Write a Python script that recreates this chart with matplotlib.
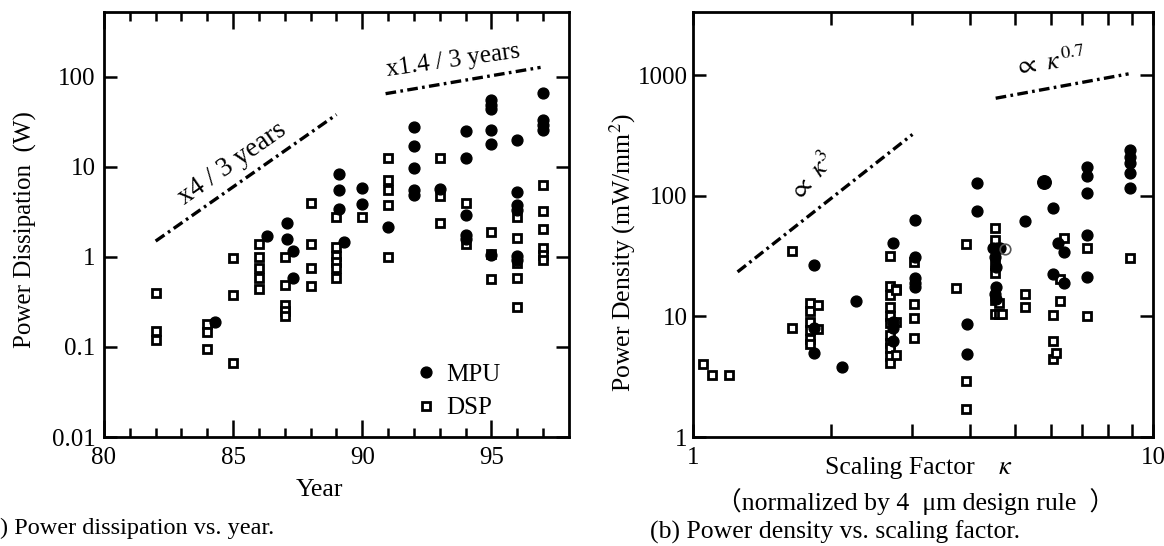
import matplotlib
matplotlib.use("Agg")
import matplotlib.pyplot as plt
import numpy as np
from matplotlib.ticker import FixedLocator, NullLocator, FixedFormatter, NullFormatter

plt.rcParams["font.family"] = ["Liberation Serif", "Noto Sans CJK JP", "DejaVu Sans"]
plt.rcParams["mathtext.fontset"] = "stix"

# ---------------- (a) power dissipation vs. year ----------------
mpu_year = [84.3, 86.3, 87.1, 87.1, 87.3, 87.3,
            89.1, 89.1, 89.1, 89.3, 90.0, 90.0, 91.0,
            92.0, 92.0, 92.0, 92.0, 92.0, 93.0,
            94.0, 94.0, 94.0, 94.0, 94.0,
            95.0, 95.0, 95.0, 95.0, 95.0, 95.0,
            96.0, 96.0, 96.0, 96.0, 96.0, 96.0,
            97.0, 97.0, 97.0, 97.0]
mpu_power = [0.19, 1.7, 2.4, 1.6, 1.15, 0.58,
             8.4, 5.5, 3.4, 1.45, 5.8, 3.9, 2.15,
             28, 17, 9.7, 5.5, 4.9, 5.7,
             25, 12.4, 2.9, 1.75, 1.6,
             55, 49, 44, 25.5, 18, 1.05,
             20, 5.2, 3.8, 3.3, 1.03, 0.93,
             66, 33, 29, 26]

dsp_year = [82, 82, 82, 84, 84, 84, 85, 85, 85,
            86, 86, 86, 86, 86, 87, 87, 87, 87, 87,
            88, 88, 88, 88, 89, 89, 89, 89, 89, 89, 90,
            91, 91, 91, 91, 91, 93, 93, 93, 94, 94,
            95, 95, 95, 96, 96, 96, 96, 96,
            97, 97, 97, 97, 97, 97]
dsp_power = [0.40, 0.15, 0.12, 0.18, 0.146, 0.094, 0.97, 0.38, 0.067,
             1.4, 1.0, 0.76, 0.58, 0.44, 1.0, 0.49, 0.29, 0.25, 0.22,
             4.0, 1.4, 0.76, 0.48, 2.8, 1.3, 1.03, 0.88, 0.76, 0.58, 2.75,
             12.5, 7.2, 5.6, 3.8, 1.0, 12.5, 4.7, 2.4, 4.0, 1.38,
             1.88, 1.08, 0.57, 2.8, 1.62, 0.86, 0.59, 0.28,
             6.3, 3.2, 2.05, 1.25, 1.05, 0.92]

year_ticks = [80, 85, 90, 95]
power_ticks = [0.01, 0.1, 1, 10, 100]
power_tick_labels = ["0.01", "0.1", "1", "10", "100"]

# growth guides: x4 per 3 years and x1.4 per 3 years
fast_years = [82.0, 89.0]
fast_start, fast_factor = 1.5, 4.0
slow_years = [90.9, 96.9]
slow_start, slow_factor = 65.0, 1.4

# ---------------- (b) power density vs. scaling factor ----------------
mpu_kappa = [1.83, 1.83, 1.83, 2.11, 2.26,
             2.72, 2.72, 2.72, 2.72,
             3.04, 3.04, 3.04, 3.04, 3.04,
             3.95, 3.95, 4.14, 4.14,
             4.50, 4.58, 4.66, 4.54, 4.56, 4.56, 4.54, 4.56,
             5.27, 5.8, 6.05, 6.23, 6.41, 6.05, 6.41,
             7.2, 7.2, 7.2, 7.2, 7.2,
             8.9, 8.9, 8.9, 8.9, 8.9]
mpu_density = [26.5, 8.0, 5.0, 3.8, 13.5,
               41, 9.0, 8.0, 6.3,
               63, 31, 21, 19, 17.7,
               8.6, 4.9, 128, 75,
               37, 37, 37, 31, 25.5, 17.7, 15.5, 14.0,
               62, 131, 80, 41, 34.5, 22.5, 19,
               175, 147, 106, 47.5, 21.2,
               241, 212, 189, 154, 116]
mpu_marker_scale = [1.0] * 27 + [1.25] + [1.0] * 15

open_kappa = [4.77]
open_density = [36]

dsp_kappa = [1.05, 1.10, 1.20, 1.644, 1.644,
             1.80, 1.80, 1.80, 1.80, 1.80, 1.80, 1.87, 1.87,
             2.68, 2.68, 2.68, 2.68, 2.68, 2.68, 2.68, 2.68, 2.68, 2.68, 2.68,
             2.76, 2.76, 2.76, 2.76,
             3.02, 3.02, 3.02, 3.02,
             3.73, 3.92, 3.92, 3.92,
             4.54, 4.54, 4.54, 4.54, 4.54, 4.54, 4.62, 4.62, 4.70,
             5.27, 5.27, 6.05, 6.05, 6.05, 6.15, 6.28, 6.28, 6.41,
             7.2, 7.2, 8.9]
dsp_density = [4.0, 3.3, 3.3, 35, 8.0,
               13, 11, 9, 7.7, 6.5, 5.9, 12.5, 7.8,
               32, 18, 15, 12, 10, 8.8, 7.0, 6.0, 5.5, 4.7, 4.1,
               17, 16.5, 9.0, 4.8,
               28.5, 12.7, 9.8, 6.6,
               17.1, 40, 2.9, 1.7,
               54, 43, 26.5, 22.8, 13.8, 10.4, 13.0, 10.4, 10.4,
               15.3, 11.9, 10.3, 6.2, 4.4, 5.0, 20.4, 13.5, 45,
               37, 10.1, 30.4]

kappa_ticks = [1, 10]
kappa_minor = [2, 3, 4, 5, 6, 7, 8, 9]
density_ticks = [1, 10, 100, 1000]

# scaling guides: density proportional to kappa^3 and kappa^0.7
cube_kappa = [1.25, 3.0]
cube_coef, cube_exp = 12.0, 3.0
weak_kappa = [4.55, 8.85]
weak_coef, weak_exp = 224.0, 0.7

# ---------------- drawing ----------------
W, H = 1164, 546
fig = plt.figure(figsize=(W / 100, H / 100), dpi=100)
ax1 = fig.add_axes([104 / W, 109 / H, 465 / W, 425 / H])
ax2 = fig.add_axes([693 / W, 109 / H, 460 / W, 425 / H])

tick_fs = 18
lw_spine = 2.0
guide_style = dict(color="black", lw=2.4, linestyle=(0, (3.2, 1.3, 0.8, 1.3)),
                   dash_capstyle="butt", solid_capstyle="butt")
circle_style = dict(marker="o", ls="none", color="black", ms=7.8)
square_style = dict(marker="s", ls="none", mfc="white", mec="black", ms=5.6, mew=2.0)

for ax in (ax1, ax2):
    for sp in ax.spines.values():
        sp.set_linewidth(lw_spine)

# panel (a)
ax1.set_yscale("log")
ax1.set_xlim(80, 98)
ax1.set_ylim(0.01, 525)
ax1.plot(dsp_year, dsp_power, label="DSP", **square_style)
ax1.plot(mpu_year, mpu_power, label="MPU", **circle_style)

fy = np.linspace(*fast_years, 50)
ax1.plot(fy, fast_start * fast_factor ** ((fy - fast_years[0]) / 3), **guide_style)
sy = np.linspace(*slow_years, 50)
ax1.plot(sy, slow_start * slow_factor ** ((sy - slow_years[0]) / 3), **guide_style)

ax1.xaxis.set_major_locator(FixedLocator(year_ticks))
ax1.xaxis.set_major_formatter(FixedFormatter([str(v) for v in year_ticks]))
ax1.xaxis.set_minor_locator(FixedLocator([y for y in range(81, 98) if y not in year_ticks]))
ax1.yaxis.set_major_locator(FixedLocator(power_ticks))
ax1.yaxis.set_major_formatter(FixedFormatter(power_tick_labels))
ax1.yaxis.set_minor_locator(NullLocator())
ax1.tick_params(which="both", direction="in", top=True, right=True,
                width=1.8, labelsize=tick_fs)
ax1.tick_params(axis="x", which="major", length=12, pad=7)
ax1.tick_params(axis="x", which="minor", length=6.5)
ax1.tick_params(axis="y", which="major", length=9.5, pad=6)

ax1.text(84.95, 10.8, "x4 / 3 years", rotation=35, fontsize=19.5,
         ha="center", va="center", rotation_mode="anchor")
ax1.text(93.5, 150, "x1.4 / 3 years", rotation=8, fontsize=18,
         ha="center", va="center", rotation_mode="anchor")

h, l = ax1.get_legend_handles_labels()
ax1.legend(h[::-1], l[::-1], loc="lower left", bbox_to_anchor=(0.629, 0.0),
           frameon=False, fontsize=18, handlelength=1.0, handletextpad=0.3,
           labelspacing=0.45, borderpad=0.2)

# panel (b)
ax2.set_xscale("log")
ax2.set_yscale("log")
ax2.set_xlim(1, 10)
ax2.set_ylim(1, 3360)
ax2.plot(dsp_kappa, dsp_density, **square_style)
for k, d, s in zip(mpu_kappa, mpu_density, mpu_marker_scale):
    ax2.plot([k], [d], marker="o", ls="none", color="black", ms=7.8 * s)
ax2.plot(open_kappa, open_density, marker="o", ls="none", mfc="none",
         mec="#555555", ms=7.6, mew=1.2)

ck = np.linspace(*cube_kappa, 50)
ax2.plot(ck, cube_coef * ck ** cube_exp, **guide_style)
wk = np.linspace(*weak_kappa, 50)
ax2.plot(wk, weak_coef * wk ** weak_exp, **guide_style)

ax2.xaxis.set_major_locator(FixedLocator(kappa_ticks))
ax2.xaxis.set_major_formatter(FixedFormatter([str(v) for v in kappa_ticks]))
ax2.xaxis.set_minor_locator(FixedLocator(kappa_minor))
ax2.xaxis.set_minor_formatter(NullFormatter())
ax2.yaxis.set_major_locator(FixedLocator(density_ticks))
ax2.yaxis.set_major_formatter(FixedFormatter([str(v) for v in density_ticks]))
ax2.yaxis.set_minor_locator(NullLocator())
ax2.tick_params(which="both", direction="in", top=True, right=True,
                width=1.8, labelsize=tick_fs)
ax2.tick_params(axis="x", which="both", length=9.5, pad=7)
ax2.tick_params(axis="y", which="major", length=9.5, pad=4)

ax2.text(1.815, 144, r"$\propto\ \kappa^{3}$", rotation=48, fontsize=19,
         ha="center", va="center", rotation_mode="anchor")
ax2.text(5.97, 1294, r"$\propto\ \kappa^{\,0.7}$", rotation=8, fontsize=19,
         ha="center", va="center", rotation_mode="anchor")

# axis titles and captions
def fx(px):
    return px / W

def fyp(py):
    return 1 - py / H

fig.text(fx(25), fyp(230), "Power Dissipation  (W)", rotation=90,
         ha="center", va="center", fontsize=18)
fig.text(fx(319), fyp(490), "Year", ha="center", va="center", fontsize=18.5)
fig.text(fx(0), fyp(528), ") Power dissipation vs. year.", ha="left",
         va="center", fontsize=17.5)

fig.text(fx(623), fyp(253), "Power Density (mW/mm$^2$)", rotation=90,
         ha="center", va="center", fontsize=18.5)
fig.text(fx(825), fyp(468), "Scaling Factor", ha="left", va="center", fontsize=18.5)
fig.text(fx(998), fyp(468), r"$\kappa$", ha="left", va="center", fontsize=19)
fig.text(fx(716), fyp(502), "（normalized by 4  μm design rule  ）",
         ha="left", va="center", fontsize=18.5)
fig.text(fx(650), fyp(532), "(b) Power density vs. scaling factor.",
         ha="left", va="center", fontsize=18.5)

fig.savefig("out.png", dpi=100)
